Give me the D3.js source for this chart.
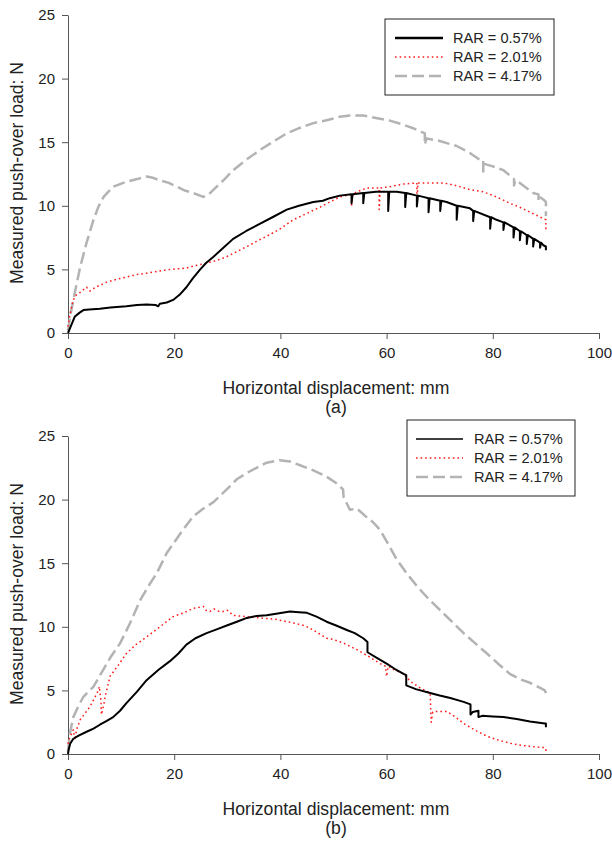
<html>
<head>
<meta charset="utf-8">
<script src="https://d3js.org/d3.v7.min.js"></script>
<style>
body { margin: 0; background: #fff; }
svg text { font-family: "Liberation Sans", Arial, sans-serif; fill: #222; }
.axis path, .axis line { stroke: #555; }
.axis text { font-size: 15px; fill: #222; }
.title { font-size: 17.6px; text-anchor: middle; }
.legtext { font-size: 14.6px; }
</style>
</head>
<body>
<script>
// ticks
var xTicks = [0, 20, 40, 60, 80, 100];
var yTicks = [0, 5, 10, 15, 20, 25];
var seriesNames = ["RAR = 0.57%", "RAR = 2.01%", "RAR = 4.17%"];

// panel (a): [displacement mm, load N]
var topRar057 = [[0,0],[0.5,0.5],[1.3,1.3],[2.2,1.6],[2.9,1.8],[4,1.85],[6,1.9],[8,2.0],[11,2.1],[13,2.2],[14.8,2.25],[16.5,2.2],[17,2.1],[17.3,2.3],[18.6,2.4],[19.8,2.6],[21,3.0],[22.3,3.6],[23.5,4.3],[24.9,5.0],[26,5.5],[27.4,6.0],[29,6.6],[31.1,7.4],[33.5,8.0],[36.2,8.6],[38.5,9.1],[41.2,9.7],[43.5,10.0],[46.2,10.3],[48,10.4],[49.3,10.6],[51.2,10.8],[53.4,10.9],[53.4,10.2],[53.6,10.9],[55.6,11.0],[55.6,10.2],[55.8,11.0],[58,11.1],[60.3,11.1],[60.3,9.6],[60.5,11.1],[61.9,11.1],[63.5,11.0],[63.5,9.9],[63.7,11.0],[65.7,10.8],[65.7,9.95],[65.9,10.8],[66.9,10.7],[67.9,10.6],[67.9,9.5],[68.1,10.6],[70.1,10.4],[70.1,9.6],[70.3,10.4],[71.3,10.3],[73.2,10.0],[73.2,8.9],[73.4,10.0],[75.7,9.8],[76.3,9.6],[76.3,8.8],[76.5,9.6],[79.5,9.1],[79.5,8.2],[79.7,9.1],[80.7,8.9],[82,8.7],[82,8.1],[82.2,8.7],[83.9,8.3],[83.9,7.5],[84.1,8.3],[85.1,8.0],[85.1,7.3],[85.3,8.0],[86.4,7.7],[86.4,7.0],[86.6,7.7],[87.6,7.4],[87.6,6.8],[87.8,7.4],[88.9,7.1],[88.9,6.7],[89.1,7.1],[89.5,6.9],[90,6.8],[90,6.5]];
var topRar201 = [[0,0.5],[0.3,1.3],[0.8,2.3],[1.3,2.9],[2.3,3.2],[3.5,3.6],[4.1,3.3],[5.2,3.6],[7.3,4.0],[9,4.2],[11,4.4],[13,4.6],[14.8,4.7],[17,4.85],[19.2,5.0],[22.3,5.1],[24,5.3],[26.1,5.5],[28,5.7],[29.9,6.0],[31.8,6.4],[33.7,6.8],[35.5,7.2],[37.4,7.6],[40,8.2],[42.4,8.9],[45,9.4],[47.5,9.9],[49.3,10.3],[51.2,10.7],[53.4,10.9],[53.4,10.0],[53.6,10.9],[54.4,11.1],[56.3,11.4],[58.6,11.4],[58.6,9.7],[58.8,11.4],[60.6,11.5],[63,11.7],[65.7,11.8],[65.7,10.0],[65.9,11.8],[68,11.8],[70.7,11.8],[73,11.6],[75.5,11.3],[78.2,11.1],[80.7,10.7],[83.2,10.2],[85,9.9],[87,9.5],[89.5,9.0],[90,8.9],[90,8.1]];
var topRar417 = [[0,0.2],[0.4,1.3],[1.3,3.2],[2.3,5.2],[3.5,7.1],[4.8,8.9],[5.7,9.9],[6.7,10.7],[8.5,11.5],[11,11.9],[13,12.1],[14.8,12.3],[16,12.2],[17.3,12.0],[19,11.8],[20.5,11.5],[22,11.2],[23.6,11.0],[25.5,10.7],[26.5,10.9],[28,11.5],[29.5,12.1],[31.1,12.8],[33.5,13.6],[36.2,14.4],[38.5,15.0],[41.2,15.7],[43.5,16.1],[46.2,16.5],[48.5,16.7],[51.2,17.0],[53.1,17.1],[55.6,17.1],[58,16.9],[60.6,16.7],[63,16.4],[65,16.1],[67.2,15.7],[67.2,14.8],[67.5,15.3],[70,15.1],[73.2,14.7],[75.5,14.2],[77.6,13.6],[78.2,13.6],[78.2,12.7],[78.4,13.3],[80,13.1],[82,12.8],[84,12.1],[84,11.6],[84.2,12.0],[85.1,11.8],[87.6,11.0],[88.6,10.9],[88.6,10.4],[88.8,10.7],[89.5,10.5],[90,10.3],[90,9.2]];

// panel (b)
var botRar057 = [[0,0],[0.1,0.3],[0.4,0.8],[1.0,1.2],[2,1.45],[3.5,1.75],[4.8,2.0],[6,2.3],[7.3,2.6],[8.5,2.9],[9.8,3.4],[11,4.0],[13,4.9],[14.8,5.8],[17,6.6],[19.2,7.3],[20.8,7.9],[22.3,8.6],[24,9.1],[26.1,9.5],[28,9.8],[29.9,10.1],[31.8,10.4],[33.7,10.7],[35.5,10.85],[37.4,10.9],[39.5,11.05],[41.8,11.2],[43.5,11.15],[45,11.1],[46.8,10.8],[48.7,10.4],[50.5,10.1],[52.5,9.75],[54,9.5],[55.6,9.1],[56.4,8.8],[56.4,8.0],[58,7.6],[60,7.1],[61.5,6.7],[63.2,6.3],[63.7,6.2],[63.7,5.4],[65.5,5.1],[68.2,4.8],[70,4.6],[72,4.4],[74.5,4.1],[75.8,3.9],[75.8,3.1],[76.2,3.3],[77.3,3.4],[77.3,2.9],[78,3.0],[80,2.95],[82,2.9],[84.5,2.75],[87,2.55],[89.8,2.4],[90,2.4],[90,2.1]];
var botRar201 = [[0,0.8],[0.4,1.4],[0.7,1.6],[1.0,1.9],[1.3,1.1],[1.6,1.9],[2.3,2.7],[3.2,3.2],[4.1,3.7],[5,4.4],[5.7,5.0],[5.9,5.3],[6.2,4.2],[6.3,3.1],[6.7,3.8],[7,4.5],[7.9,6.1],[9.5,7.0],[11,7.9],[12.8,8.6],[14.8,9.2],[17,9.9],[19.8,10.8],[21.8,11.1],[23.6,11.45],[25.5,11.6],[26,11.3],[26.7,11.2],[27.5,11.4],[28.5,11.2],[29.2,11.2],[30,11.3],[31.1,10.9],[33.5,10.8],[36.2,10.7],[39,10.6],[42.4,10.3],[44.5,10.1],[46.2,9.75],[48.7,9.1],[50,9.0],[52,8.7],[54.4,8.2],[56.5,7.7],[58.8,7.1],[59.8,6.9],[60,6.1],[60.3,6.9],[61.5,6.6],[63.2,6.3],[64.5,5.7],[66.3,5.2],[68.2,4.8],[68.4,2.5],[68.7,3.3],[69.4,3.35],[71.3,3.35],[73,2.9],[74.5,2.4],[77,1.8],[78.9,1.4],[81,1.1],[83.2,0.85],[85,0.7],[87,0.6],[89.8,0.5],[90,0.4],[90,0.1]];
var botRar417 = [[0,0.2],[0.3,1.5],[1.0,2.9],[2,3.8],[2.9,4.5],[4.8,5.3],[6.6,6.6],[8,7.6],[9.8,8.7],[11.7,10.3],[13.6,12.1],[15,13.1],[16.7,14.2],[18.6,15.8],[21.1,17.3],[23.6,18.7],[25.5,19.3],[27.4,19.8],[29.9,20.8],[31.8,21.6],[33.7,22.1],[35.5,22.5],[37.4,22.9],[39.9,23.1],[41.8,23.0],[43.7,22.7],[46.2,22.3],[48.7,21.8],[50.5,21.3],[51.8,20.8],[51.9,20.2],[53.1,19.2],[54.4,19.3],[56,18.7],[57.5,18.2],[58.8,17.6],[60.3,16.5],[61.9,15.3],[63.8,14.2],[65.7,13.2],[67.9,12.2],[70.1,11.3],[72.3,10.4],[74.5,9.5],[76.7,8.7],[78.9,7.9],[81,7.1],[83.2,6.3],[85,5.9],[87,5.6],[89.8,5.0],[90,4.8],[90,4.4]];

var styles = [
    {color: "#000000", width: 2, dash: null},
    {color: "#ff1a1a", width: 1.5, dash: "1.6,3"},
    {color: "#b3b3b3", width: 2.5, dash: "12,5"}
];

var svg = d3.select("body").append("svg")
    .attr("width", 612)
    .attr("height", 841);

function buildPanel(cfg) {
    var x = d3.scaleLinear().domain([0, 100]).range([68, 599]);
    var y = d3.scaleLinear().domain([0, 25]).range([cfg.bottom, cfg.top]);

    svg.append("g")
        .attr("class", "axis")
        .attr("transform", "translate(0," + cfg.bottom + ")")
        .call(d3.axisBottom(x).tickValues(xTicks).tickSize(6).tickPadding(8).tickSizeOuter(0));

    svg.append("g")
        .attr("class", "axis")
        .attr("transform", "translate(68,0)")
        .call(d3.axisLeft(y).tickValues(yTicks).tickSize(6).tickPadding(7).tickSizeOuter(0));

    var line = d3.line()
        .x(function(d) { return x(d[0]); })
        .y(function(d) { return y(d[1]); });

    // draw grey first, black last
    [2, 1, 0].forEach(function(i) {
        var s = styles[i];
        svg.append("path")
            .datum(cfg.series[i])
            .attr("d", line)
            .attr("fill", "none")
            .attr("stroke", s.color)
            .attr("stroke-width", s.width)
            .attr("stroke-dasharray", s.dash)
            .attr("stroke-linejoin", "round");
    });

    // axis titles
    svg.append("text")
        .attr("class", "title")
        .attr("x", 336)
        .attr("y", cfg.bottom + 61)
        .text("Horizontal displacement: mm");

    svg.append("text")
        .attr("class", "title")
        .attr("x", 336)
        .attr("y", cfg.bottom + 80)
        .text(cfg.label);

    svg.append("text")
        .attr("class", "title")
        .attr("transform", "translate(23," + (cfg.top + 158) + ") rotate(-90)")
        .text("Measured push-over load: N");

    // legend
    var lg = cfg.legend;
    svg.append("rect")
        .attr("x", lg.x).attr("y", lg.y)
        .attr("width", lg.w).attr("height", lg.h)
        .attr("fill", "#fff")
        .attr("stroke", "#222")
        .attr("stroke-width", 1);

    seriesNames.forEach(function(name, i) {
        var s = styles[i];
        var yy = lg.y + 19 + i * 19;
        svg.append("line")
            .attr("x1", lg.x + lg.lx1).attr("x2", lg.x + lg.lx2)
            .attr("y1", yy).attr("y2", yy)
            .attr("stroke", s.color)
            .attr("stroke-width", i == 0 ? lg.blackWidth : s.width)
            .attr("stroke-dasharray", s.dash);
        svg.append("text")
            .attr("class", "legtext")
            .attr("x", lg.x + lg.tx)
            .attr("y", yy + 5)
            .text(name);
    });
}

buildPanel({
    top: 15, bottom: 333, label: "(a)",
    series: [topRar057, topRar201, topRar417],
    legend: {x: 385, y: 19, w: 169, h: 76, lx1: 10, lx2: 58, tx: 68, blackWidth: 2.5}
});

buildPanel({
    top: 436, bottom: 754, label: "(b)",
    series: [botRar057, botRar201, botRar417],
    legend: {x: 407, y: 420, w: 168, h: 76, lx1: 9, lx2: 56, tx: 67, blackWidth: 1.5}
});
</script>
</body>
</html>
